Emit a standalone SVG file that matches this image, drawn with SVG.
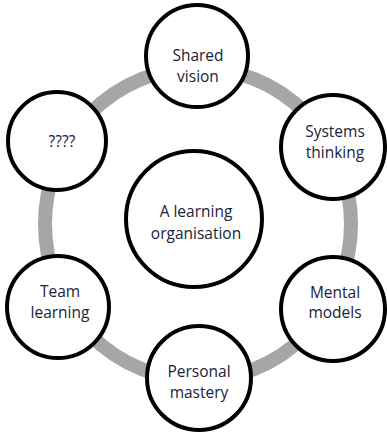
<svg xmlns="http://www.w3.org/2000/svg" width="387" height="432" viewBox="0 0 387 432">
<style>
.node{fill:#fff;stroke:#000;stroke-width:4}
.ring{fill:none;stroke:#a6a6a6;stroke-width:14}
text{font-family:"Open Sans","Liberation Sans",sans-serif;font-size:15.5px;fill:#1a2238;text-anchor:middle}
</style>
<rect width="387" height="432" fill="#fff"/>
<g id="connectors">
<ellipse class="ring" cx="198" cy="224" rx="153" ry="156"/>
</g>
<g id="center">
<circle class="node" cx="194" cy="219" r="68"/>
<text x="196" y="217">A learning</text>
<text x="196" y="239">organisation</text>
</g>
<g id="shared-vision">
<circle class="node" cx="197" cy="56" r="51"/>
<text x="198" y="61">Shared</text>
<text x="198" y="82">vision</text>
</g>
<g id="systems-thinking">
<circle class="node" cx="333" cy="147" r="52"/>
<text x="335" y="137">Systems</text>
<text x="335" y="158">thinking</text>
</g>
<g id="mental-models">
<circle class="node" cx="333" cy="309" r="52"/>
<text x="335" y="298">Mental</text>
<text x="335" y="318">models</text>
</g>
<g id="personal-mastery">
<circle class="node" cx="199" cy="378" r="52"/>
<text x="199" y="377">Personal</text>
<text x="199" y="398">mastery</text>
</g>
<g id="team-learning">
<circle class="node" cx="58" cy="307" r="51"/>
<text x="60" y="297">Team</text>
<text x="60" y="318">learning</text>
</g>
<g id="unknown">
<circle class="node" cx="57" cy="141" r="49"/>
<text x="62" y="147">????</text>
</g>
</svg>
